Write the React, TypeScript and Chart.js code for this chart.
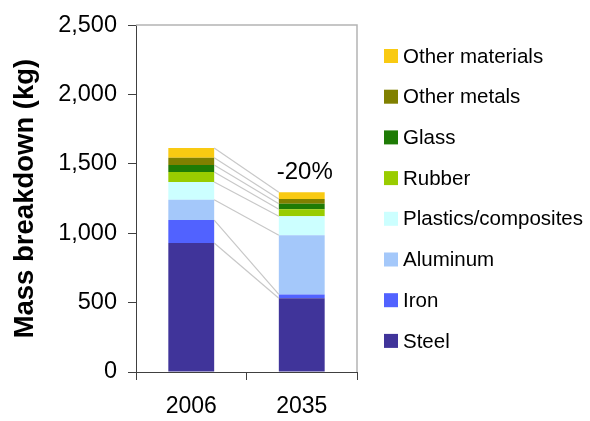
import React, { useEffect, useRef } from 'react';
import { Chart, registerables } from 'chart.js';

Chart.register(...registerables);

const FONT = "'Liberation Sans', Arial, Helvetica, sans-serif";

const categories = ['2006', '2035'];
const materials = [
  'Steel',
  'Iron',
  'Aluminum',
  'Plastics/composites',
  'Rubber',
  'Glass',
  'Other metals',
  'Other materials',
];
const steel = [930, 531];
const iron = [165, 28];
const aluminum = [146, 427];
const plastics = [128, 137];
const rubber = [73, 50];
const glass = [50, 40];
const otherMetals = [52, 33];
const otherMaterials = [70, 50];
const seriesValues = [steel, iron, aluminum, plastics, rubber, glass, otherMetals, otherMaterials];
const colors = ['#40349a', '#5162ff', '#a4c8fa', '#ccffff', '#99cc00', '#1e7b05', '#808000', '#f9ca12'];
const yMin = 0;
const yMax = 2500;
const yStep = 500;

const connectorPlugin = {
  id: 'connectors',
  afterDatasetsDraw(chart: any) {
    const ctx = chart.ctx;
    const n = chart.data.datasets.length;
    ctx.save();
    ctx.strokeStyle = '#c8c8c8';
    ctx.lineWidth = 1.2;
    for (let k = 0; k < n; k++) {
      const meta = chart.getDatasetMeta(k);
      const a = meta.data[0];
      const b = meta.data[1];
      if (!a || !b) continue;
      ctx.beginPath();
      ctx.moveTo(a.x + a.width / 2, a.y);
      ctx.lineTo(b.x - b.width / 2, b.y);
      ctx.stroke();
    }
    ctx.restore();
  },
};

const changePlugin = {
  id: 'changeLabel',
  afterDatasetsDraw(chart: any) {
    const ds = chart.data.datasets;
    const n = ds.length;
    const tot = (i: number) => ds.reduce((s: number, d: any) => s + d.data[i], 0);
    const pct = Math.round((tot(1) / tot(0) - 1) * 100);
    const top = chart.getDatasetMeta(n - 1).data[1];
    const ctx = chart.ctx;
    ctx.save();
    ctx.fillStyle = '#000';
    ctx.font = `24px ${FONT}`;
    ctx.textAlign = 'center';
    ctx.textBaseline = 'middle';
    ctx.fillText(`${pct}%`, top.x + 3, top.y - 20);
    ctx.restore();
  },
};

const framePlugin = {
  id: 'frame',
  afterDraw(chart: any) {
    const { ctx, chartArea } = chart;
    ctx.save();
    ctx.strokeStyle = '#b4b4b4';
    ctx.lineWidth = 1.5;
    ctx.beginPath();
    ctx.moveTo(chartArea.left, chartArea.top);
    ctx.lineTo(chartArea.right, chartArea.top);
    ctx.lineTo(chartArea.right, chartArea.bottom);
    ctx.stroke();
    ctx.restore();
  },
};

const legendPlugin = {
  id: 'customLegend',
  afterDraw(chart: any) {
    const ctx = chart.ctx;
    const ds = chart.data.datasets;
    const n = ds.length;
    ctx.save();
    ctx.font = `20.5px ${FONT}`;
    ctx.textBaseline = 'middle';
    ctx.textAlign = 'left';
    for (let i = n - 1; i >= 0; i--) {
      const row = n - 1 - i;
      const y = 56 + row * 40.7;
      ctx.fillStyle = ds[i].backgroundColor;
      ctx.fillRect(384, y - 7, 14, 14);
      ctx.fillStyle = '#000';
      ctx.fillText(ds[i].label, 403, y + 1);
    }
    ctx.restore();
  },
};

export default function App() {
  const ref = useRef<HTMLCanvasElement>(null);
  useEffect(() => {
    const chart = new Chart(ref.current as HTMLCanvasElement, {
      type: 'bar',
      data: {
        labels: categories,
        datasets: materials.map((m, i) => ({
          label: m,
          data: seriesValues[i],
          backgroundColor: colors[i],
          borderWidth: 0,
          barPercentage: 0.415,
          categoryPercentage: 1,
        })),
      },
      options: {
        responsive: true,
        maintainAspectRatio: false,
        animation: false,
        layout: { padding: { left: 0, top: 19, right: 233, bottom: 0 } },
        plugins: {
          legend: { display: false },
          tooltip: { enabled: false },
        },
        scales: {
          x: {
            stacked: true,
            offset: true,
            grid: { offset: true, drawOnChartArea: false, drawTicks: true, tickLength: 8, color: '#404040' },
            border: { color: '#404040', width: 1 },
            ticks: { color: '#000', font: { size: 23, family: FONT }, padding: 13 },
            afterFit: (s: any) => {
              s.height = 49;
            },
          },
          y: {
            stacked: true,
            min: yMin,
            max: yMax,
            ticks: {
              stepSize: yStep,
              color: '#000',
              font: { size: 23.5, family: FONT },
              padding: 11,
              callback: (v: any) => Number(v).toLocaleString('en-US'),
            },
            grid: { drawOnChartArea: false, drawTicks: true, tickLength: 8, color: '#404040' },
            border: { color: '#404040', width: 1 },
            title: {
              display: true,
              text: 'Mass breakdown (kg)',
              color: '#000',
              font: { size: 27.5, weight: 'bold', family: FONT },
              padding: { top: 9, bottom: 0 },
            },
            afterFit: (s: any) => {
              s.width = 136;
            },
          },
        },
      },
      plugins: [connectorPlugin, changePlugin, framePlugin, legendPlugin],
    } as any);
    return () => chart.destroy();
  }, []);
  return (
    <div style={{ position: 'absolute', left: 0, top: 0, width: 590, height: 421 }}>
      <canvas ref={ref} style={{ display: 'block' }} />
    </div>
  );
}
